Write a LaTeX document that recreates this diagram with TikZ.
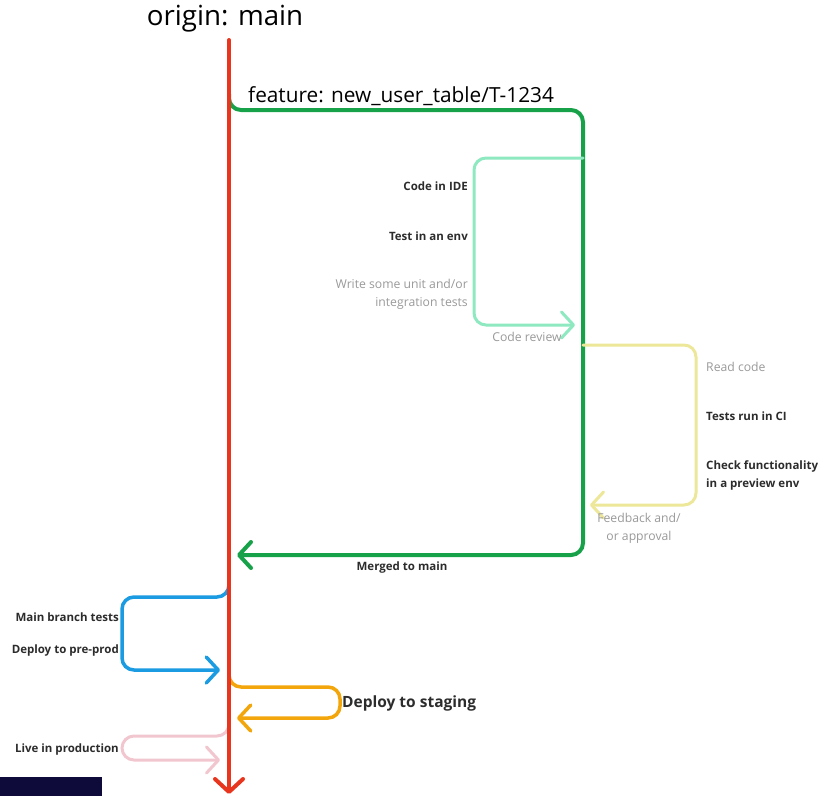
\documentclass[tikz,border=0pt]{standalone}
\usepackage{fontspec}
\setmainfont{Open Sans}
\usetikzlibrary{arrows.meta}
\definecolor{mainred}{HTML}{E8361E}
\definecolor{featgreen}{HTML}{17A24A}
\definecolor{mint}{HTML}{8EE8C0}
\definecolor{paleyellow}{HTML}{EDE79A}
\definecolor{skyblue}{HTML}{1B9BE2}
\definecolor{amber}{HTML}{F2A60C}
\definecolor{blush}{HTML}{F2C6CE}
\definecolor{navy}{HTML}{0E0A3A}
\definecolor{ink}{HTML}{2C2C2C}
\definecolor{muted}{HTML}{999999}
\tikzset{
  x=1pt, y=-1pt,
  chev/.tip={Straight Barb[length=12, width=26, round]},
  branch/.style={line width=#1, rounded corners=12, line cap=round, -chev},
  strong/.style={font=\fontsize{11.5}{15}\selectfont\bfseries, text=ink, inner sep=0pt},
  soft/.style={font=\fontsize{12.2}{18}\selectfont, text=muted, inner sep=0pt},
}
\begin{document}
\begin{tikzpicture}
\useasboundingbox (0,0) rectangle (821,796);

% key points of the lines
\coordinate (mtop) at (229,40);
\coordinate (mbot) at (229,794);

% feature branch
\coordinate (g0) at (229,94);
\coordinate (g1) at (583,110);
\coordinate (g2) at (583,555);
\coordinate (gend) at (237,555);
\draw[branch=4, draw=featgreen] (g0) |- (g1) -- (g2) -- (gend);

% coding loop
\coordinate (c0) at (583,158);
\coordinate (c1) at (474,158);
\coordinate (c2) at (474,325);
\coordinate (cend) at (575,325);
\draw[branch=3, draw=mint] (c0) -- (c1) -- (c2) -- (cend);

% review loop
\coordinate (r0) at (583,345);
\coordinate (r1) at (696,345);
\coordinate (r2) at (696,505);
\coordinate (rend) at (590,505);
\draw[branch=3, draw=paleyellow] (r0) -- (r1) -- (r2) -- (rend);

% pre-prod loop
\coordinate (b0) at (229,583);
\coordinate (b1) at (122,597);
\coordinate (b2) at (122,670);
\coordinate (bend) at (220,670);
\draw[branch=3.5, draw=skyblue] (b0) |- (b1) -- (b2) -- (bend);

% staging loop
\coordinate (o0) at (229,675);
\coordinate (o1) at (340,687);
\coordinate (o2) at (340,718);
\coordinate (oend) at (237,718);
\draw[branch=3.5, draw=amber] (o0) |- (o1) -- (o2) -- (oend);

% production loop
\coordinate (p0) at (229,724);
\coordinate (p1) at (122,736);
\coordinate (p2) at (122,760);
\coordinate (pend) at (220,760);
\draw[branch=3, draw=blush] (p0) |- (p1) -- (p2) -- (pend);

% main line
\draw[line width=4, draw=mainred, line cap=round,
      -{Straight Barb[length=13, width=28, round]}] (mtop) -- (mbot);

% titles
\node[font=\fontsize{27.7}{32}\selectfont, text=black, inner sep=0pt] (title) at (225,19) {origin: main};
\node[font=\fontsize{20.8}{24}\selectfont, text=black, inner sep=0pt, anchor=west] (feat) at (248,96) {feature: new\_user\_table/T-1234};

% coding loop labels
\node[strong, anchor=east] (ide) at (468,186) {Code in IDE};
\node[strong, anchor=east] (testenv) at (468,236) {Test in an env};
\node[soft, anchor=east, align=right] (unit) at (468,294) {Write some unit and/or\\integration tests};
\node[soft] (creview) at (527,337) {Code review};

% review loop labels
\node[soft, anchor=west] (readcode) at (706,367) {Read code};
\node[strong, anchor=west] (ci) at (706,416) {Tests run in CI};
\node[strong, anchor=west, align=left, font=\fontsize{11.5}{18}\selectfont\bfseries] (preview) at (706,475) {Check functionality\\in a preview env};
\node[soft, align=center] (feedback) at (639,528) {Feedback and/\\or approval};

\node[strong] (merged) at (402,567) {Merged to main};

% release labels
\node[strong, anchor=east] (mbt) at (119,617) {Main branch tests};
\node[strong, anchor=east] (preprod) at (119,650) {Deploy to pre-prod};
\node[font=\fontsize{15.5}{20}\selectfont\bfseries, text=ink, inner sep=0pt, anchor=west] (staging) at (342,703) {Deploy to staging};
\node[strong, anchor=east] (live) at (119,749) {Live in production};

% corner block
\fill[navy] (0,777) rectangle (102,796);
\end{tikzpicture}
\end{document}
